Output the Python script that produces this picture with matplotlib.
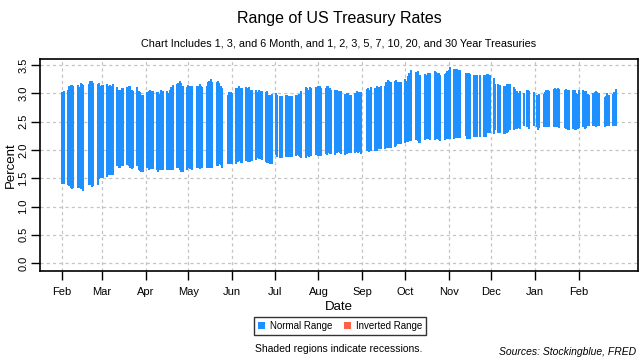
import matplotlib
import pandas as pd

matplotlib.use("Agg")
import matplotlib.pyplot as plt  # noqa: E402
from matplotlib.patches import Patch  # noqa: E402

# 取引日 (週末と債券市場の休場日を除く)
start_date = "2018-02-01"
end_date = "2019-02-27"
holidays = [
    "2018-02-19", "2018-05-28", "2018-07-04", "2018-09-03", "2018-10-08",
    "2018-11-12", "2018-11-22", "2018-12-05", "2018-12-25", "2019-01-01",
    "2019-01-21", "2019-02-18",
]

# 各日の最低利回り (%)
range_low = [
    # Feb 2018
    1.40, 1.40, 1.39, 1.36, 1.32, 1.31, 1.33, 1.33, 1.32, 1.31, 1.36, 1.28,
    1.39, 1.38, 1.34, 1.37, 1.39, 1.48, 1.50,
    # Mar
    1.51, 1.50, 1.52, 1.55, 1.56, 1.56, 1.56, 1.71, 1.68, 1.69, 1.71, 1.72,
    1.74, 1.71, 1.68, 1.66, 1.69, 1.71, 1.65, 1.63, 1.62, 1.62,
    # Apr
    1.68, 1.65, 1.66, 1.67, 1.66, 1.64, 1.61, 1.64, 1.64, 1.64, 1.64, 1.65,
    1.64, 1.65, 1.64, 1.68, 1.68, 1.64, 1.61, 1.61, 1.65,
    # May
    1.68, 1.67, 1.67, 1.65, 1.68, 1.68, 1.67, 1.68, 1.68, 1.68, 1.68, 1.68,
    1.69, 1.68, 1.71, 1.72, 1.75, 1.73, 1.68, 1.75, 1.75, 1.75,
    # Jun
    1.75, 1.75, 1.79, 1.80, 1.77, 1.77, 1.81, 1.79, 1.80, 1.79, 1.80, 1.83,
    1.85, 1.84, 1.84, 1.83, 1.79, 1.77, 1.77, 1.76, 1.76,
    # Jul
    1.92, 1.87, 1.86, 1.85, 1.88, 1.88, 1.88, 1.88, 1.87, 1.90, 1.91, 1.89,
    1.88, 1.85, 1.86, 1.90, 1.88, 1.89, 1.89, 1.92, 1.91,
    # Aug
    1.89, 1.89, 1.89, 1.93, 1.92, 1.95, 1.93, 1.93, 1.92, 1.95, 1.96, 1.95,
    1.93, 1.92, 1.93, 1.95, 1.94, 1.94, 1.95, 1.96, 1.95, 1.96, 1.93,
    # Sep
    1.99, 1.98, 1.97, 1.98, 1.98, 1.99, 2.01, 2.01, 2.01, 2.01, 2.03, 2.04,
    2.03, 2.04, 2.05, 2.07, 2.10, 2.11, 2.11,
    # Oct
    2.13, 2.14, 2.14, 2.16, 2.16, 2.17, 2.16, 2.13, 2.13, 2.18, 2.19, 2.20,
    2.20, 2.18, 2.17, 2.20, 2.20, 2.18, 2.16, 2.17, 2.20, 2.20,
    # Nov
    2.19, 2.20, 2.20, 2.22, 2.22, 2.21, 2.22, 2.25, 2.20, 2.20, 2.20, 2.23,
    2.23, 2.23, 2.23, 2.23, 2.23, 2.30, 2.30, 2.30,
    # Dec
    2.29, 2.36, 2.30, 2.30, 2.28, 2.29, 2.30, 2.32, 2.36, 2.36, 2.38, 2.38,
    2.39, 2.38, 2.42, 2.41, 2.41, 2.38, 2.43,
    # Jan 2019
    2.41, 2.36, 2.39, 2.40, 2.41, 2.41, 2.41, 2.41, 2.41, 2.41, 2.41, 2.40,
    2.39, 2.39, 2.38, 2.36, 2.36, 2.38, 2.36, 2.36, 2.38,
    # Feb 2019
    2.39, 2.40, 2.38, 2.39, 2.42, 2.42, 2.42, 2.42, 2.41, 2.42, 2.43, 2.41,
    2.42, 2.42, 2.42, 2.42, 2.42, 2.42,
]

# 各日の最高利回り (%)
range_high = [
    # Feb 2018
    3.02, 3.04, 3.06, 3.13, 3.15, 3.15, 3.14, 3.15, 3.12, 3.19, 3.17, 3.15,
    3.17, 3.22, 3.22, 3.18, 3.16, 3.19, 3.14,
    # Mar
    3.15, 3.15, 3.16, 3.14, 3.15, 3.13, 3.16, 3.12, 3.06, 3.06, 3.10, 3.10,
    3.11, 3.13, 3.13, 3.06, 3.04, 3.11, 3.04, 3.02, 2.98, 2.98,
    # Apr
    3.03, 3.04, 3.07, 3.04, 3.04, 3.02, 3.02, 2.99, 3.06, 3.04, 3.04, 3.01,
    3.06, 3.11, 3.15, 3.17, 3.19, 3.22, 3.19, 3.13, 3.11,
    # May
    3.15, 3.14, 3.13, 3.13, 3.13, 3.13, 3.17, 3.14, 3.11, 3.13, 3.21, 3.22,
    3.25, 3.20, 3.20, 3.22, 3.18, 3.13, 3.09, 2.97, 3.02, 3.03,
    # Jun
    3.00, 3.09, 3.10, 3.13, 3.09, 3.09, 3.11, 3.10, 3.11, 3.06, 3.06, 3.06,
    3.02, 3.06, 3.05, 3.04, 3.02, 3.04, 2.98, 2.98, 2.99,
    # Jul
    3.01, 2.97, 2.96, 2.96, 2.97, 2.97, 2.95, 2.95, 2.95, 2.97, 2.97, 2.99,
    2.98, 3.04, 3.11, 3.10, 3.07, 3.11, 3.10, 3.12, 3.11,
    # Aug
    3.13, 3.13, 3.10, 3.10, 3.13, 3.13, 3.10, 3.07, 3.06, 3.06, 3.05, 3.04,
    3.04, 2.99, 3.01, 3.01, 2.98, 2.98, 3.01, 3.04, 3.03, 3.02, 3.02,
    # Sep
    3.08, 3.10, 3.07, 3.11, 3.10, 3.13, 3.11, 3.11, 3.13, 3.13, 3.21, 3.23,
    3.22, 3.21, 3.22, 3.24, 3.21, 3.21, 3.21,
    # Oct
    3.26, 3.22, 3.31, 3.36, 3.41, 3.38, 3.39, 3.32, 3.32, 3.35, 3.32, 3.36,
    3.36, 3.36, 3.39, 3.38, 3.36, 3.36, 3.32, 3.35, 3.36, 3.39,
    # Nov
    3.41, 3.46, 3.44, 3.44, 3.44, 3.42, 3.42, 3.36, 3.36, 3.36, 3.35, 3.33,
    3.33, 3.33, 3.33, 3.33, 3.33, 3.35, 3.35, 3.32,
    # Dec
    3.28, 3.17, 3.16, 3.15, 3.13, 3.13, 3.16, 3.17, 3.16, 3.11, 3.08, 3.04,
    3.01, 3.04, 3.01, 3.06, 3.06, 3.04, 3.03,
    # Jan 2019
    2.98, 2.93, 2.99, 2.99, 3.03, 3.06, 3.06, 3.04, 3.08, 3.10, 3.08, 3.10,
    3.08, 3.06, 3.08, 3.06, 3.06, 3.06, 3.06, 3.01, 2.99,
    # Feb 2019
    3.06, 3.06, 3.04, 3.04, 2.99, 2.97, 3.01, 3.02, 3.04, 3.02, 3.01, 2.93,
    2.95, 3.01, 2.97, 2.99, 3.03, 3.08,
]

month_ticks = [
    "2018-02-01", "2018-03-01", "2018-04-01", "2018-05-01", "2018-06-01",
    "2018-07-01", "2018-08-01", "2018-09-01", "2018-10-01", "2018-11-01",
    "2018-12-01", "2019-01-01", "2019-02-01",
]
month_labels = ["Feb", "Mar", "Apr", "May", "Jun", "Jul", "Aug", "Sep", "Oct",
                "Nov", "Dec", "Jan", "Feb"]
y_ticks = [0.0, 0.5, 1.0, 1.5, 2.0, 2.5, 3.0, 3.5]

NORMAL_COLOR = "#1E90FF"
INVERTED_COLOR = "#FF6347"

plt.rcParams["font.family"] = ["Liberation Sans", "DejaVu Sans"]

dates = pd.bdate_range(start_date, end_date, freq="C", holidays=holidays)
df = pd.DataFrame({"date": dates, "low": range_low, "high": range_high})
# 低い方が高い方を上回る日は逆転として色分け
df["inverted"] = df["low"] > df["high"]

fig = plt.figure(figsize=(6.4, 3.6), dpi=100)
ax = fig.add_axes([40 / 640, 1 - 271 / 360, 598 / 640, 212 / 360])

colors = [INVERTED_COLOR if inv else NORMAL_COLOR for inv in df["inverted"]]
ax.vlines(df["date"], df[["low", "high"]].min(axis=1), df[["low", "high"]].max(axis=1),
          colors=colors, linewidth=1.2, antialiased=False, zorder=3)

# R 風に範囲を 4% 広げる
span = df["date"].max() - df["date"].min()
ax.set_xlim(df["date"].min() - span * 0.04, df["date"].max() + span * 0.04)
ax.set_ylim(-0.14, 3.61)

ax.set_xticks(pd.to_datetime(month_ticks))
ax.set_xticklabels(month_labels, fontsize=8)
ax.set_yticks(y_ticks)
ax.set_yticklabels([f"{v:.1f}" for v in y_ticks], rotation=90, va="center", fontsize=8)
ax.tick_params(axis="both", direction="out", length=6.5, width=1, color="black")
ax.tick_params(axis="x", pad=5)
ax.tick_params(axis="y", pad=2)

ax.grid(True, color="#C4C4C4", linestyle=(0, (2.5, 2.5)), linewidth=0.9, zorder=0)
for spine in ax.spines.values():
    spine.set_linewidth(1.2)

ax.set_xlabel("Date", fontsize=9.5, labelpad=3)
ax.set_ylabel("Percent", fontsize=9.5, labelpad=1)

fig.text(339 / 640, 1 - 19 / 360, "Range of US Treasury Rates", ha="center", va="center",
         fontsize=11.5)
fig.text(339 / 640, 1 - 44 / 360,
         "Chart Includes 1, 3, and 6 Month, and 1, 2, 3, 5, 7, 10, 20, and 30 Year Treasuries",
         ha="center", va="center", fontsize=7.8)

handles = [Patch(facecolor=NORMAL_COLOR, edgecolor="none", label="Normal Range"),
           Patch(facecolor=INVERTED_COLOR, edgecolor="none", label="Inverted Range")]
leg = fig.legend(handles=handles, loc="center", bbox_to_anchor=(340 / 640, 1 - 326 / 360),
                 ncol=2, fontsize=7, frameon=True, fancybox=False, handlelength=0.7,
                 handleheight=0.7, handletextpad=0.5, columnspacing=1.2,
                 borderpad=0.4, borderaxespad=0)
leg.get_frame().set_edgecolor("black")
leg.get_frame().set_linewidth(1.0)

fig.text(339 / 640, 1 - 349 / 360, "Shaded regions indicate recessions.", ha="center",
         va="center", fontsize=7.5)
fig.text(636 / 640, 1 - 352 / 360, "Sources: Stockingblue, FRED", ha="right", va="center",
         fontsize=7.5, style="italic")

fig.savefig("out.png", dpi=100)
